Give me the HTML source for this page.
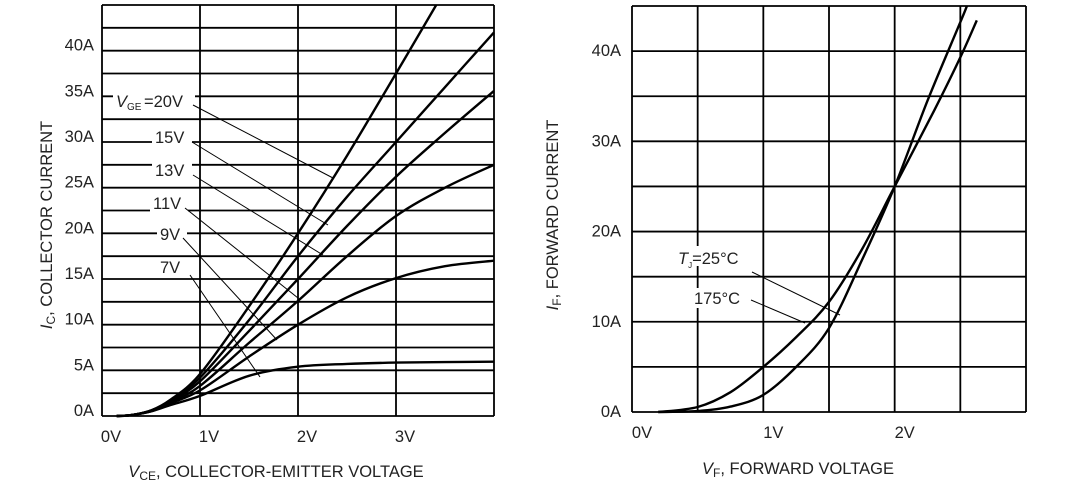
<!DOCTYPE html>
<html><head><meta charset="utf-8">
<style>
html,body{margin:0;padding:0;background:#fff;}
svg{display:block;font-family:"Liberation Sans",Arial,sans-serif;}
</style></head>
<body>
<svg id="chart" width="1092" height="483" viewBox="0 0 1092 483" xmlns="http://www.w3.org/2000/svg"></svg>
<script>
// ---------- Left chart data (Vce in V, Ic in A) ----------
const leftSeriesNames = ['20V','15V','13V','11V','9V','7V'];
const leftVce = [
  [0.15,0.3,0.5,0.7,1.0,1.5,2.0,2.5,3.0,3.41],
  [0.15,0.3,0.5,0.7,1.0,1.5,2.0,2.5,3.0,3.5,4.0],
  [0.15,0.3,0.5,0.7,1.0,1.5,2.0,2.5,3.0,3.5,4.0],
  [0.15,0.3,0.5,0.7,1.0,1.5,2.0,2.5,3.0,3.5,4.0],
  [0.15,0.3,0.5,0.7,1.0,1.5,2.0,2.5,3.0,3.5,4.0],
  [0.15,0.3,0.5,0.7,1.0,1.5,2.0,2.5,3.0,3.5,4.0]
];
const leftIc = [
  [0,0.1,0.6,1.8,4.6,12,20,28.5,37.5,45],
  [0,0.1,0.6,1.7,4.2,10.5,17.5,24,30,36,42],
  [0,0.1,0.6,1.6,3.8,9.3,15,20.8,26.2,31,35.6],
  [0,0.1,0.55,1.5,3.3,8,12.6,17.5,21.9,25,27.5],
  [0,0.1,0.5,1.4,2.8,6.5,10,13,15.1,16.4,17],
  [0,0.1,0.5,1.2,2.2,4.4,5.4,5.7,5.85,5.9,5.95]
];
const leftXTicks = ['0V','1V','2V','3V'];
const leftYTicks = ['0A','5A','10A','15A','20A','25A','30A','35A','40A'];

// ---------- Right chart data (Vf in V, If in A) ----------
const rightSeriesNames = ['25C','175C'];
const rightVf = [
  [0.2,0.5,0.75,1.0,1.25,1.5,1.75,2.0,2.25,2.5,2.55],
  [0.2,0.5,0.75,1.0,1.25,1.5,1.75,2.0,2.3,2.5,2.625]
];
const rightIf = [
  [0,0.1,0.6,1.9,5,9.3,16.8,25,34.5,43.2,45],
  [0,0.55,2.2,5,8.3,12.2,18,25,33.4,39.3,43.4]
];
const rightXTicks = ['0V','1V','2V'];
const rightYTicks = ['0A','10A','20A','30A','40A'];

const FS = 16.5;
const svg = document.getElementById('chart');
const NS = 'http://www.w3.org/2000/svg';
function mk(tag, attrs, parent){
  const e = document.createElementNS(NS, tag);
  for (const k in attrs) e.setAttribute(k, attrs[k]);
  (parent||svg).appendChild(e);
  return e;
}
function smooth(pts){
  let d = 'M' + pts[0][0].toFixed(1) + ',' + pts[0][1].toFixed(1);
  for (let i=0;i<pts.length-1;i++){
    const p0 = pts[i-1]||pts[i], p1=pts[i], p2=pts[i+1], p3=pts[i+2]||p2;
    const c1=[p1[0]+(p2[0]-p0[0])/6, p1[1]+(p2[1]-p0[1])/6];
    const c2=[p2[0]-(p3[0]-p1[0])/6, p2[1]-(p3[1]-p1[1])/6];
    d += 'C'+c1[0].toFixed(1)+','+c1[1].toFixed(1)+' '+c2[0].toFixed(1)+','+c2[1].toFixed(1)+' '+p2[0].toFixed(1)+','+p2[1].toFixed(1);
  }
  return d;
}

// ===== LEFT =====
const L = {x0:102, x1:494, y0:416, y1:5, vmax:4, imax:45};
const lx = v => L.x0 + v/L.vmax*(L.x1-L.x0);
const ly = a => L.y0 - a/L.imax*(L.y0-L.y1);
const lg = mk('g',{});


for (let a=0; a<=45; a+=2.5){
  const ln = mk('line',{x1:L.x0,x2:L.x1,y1:ly(a),y2:ly(a),stroke:'#000','stroke-width':1.8},lg);
  
  
}
for (let v=0; v<=4; v++){
  const ln = mk('line',{x1:lx(v),x2:lx(v),y1:L.y0,y2:L.y1,stroke:'#000','stroke-width':1.8},lg);
  
  
}
leftXTicks.forEach((t,i)=>{
  const e = mk('text',{x:lx(i)+9,y:442,'font-size':FS,'text-anchor':'middle',fill:'#222'},lg);
  e.textContent=t;
  
  
});
leftYTicks.forEach((t,i)=>{
  const e = mk('text',{x:94,y:ly(i*5),'font-size':FS,'text-anchor':'end',fill:'#222'},lg);
  e.textContent=t;
  
  
});
leftSeriesNames.forEach((n,s)=>{
  const pts = leftVce[s].map((v,i)=>[lx(v), ly(leftIc[s][i])]);
  const p = mk('path',{d:smooth(pts),fill:'none',stroke:'#000','stroke-width':2.4},lg);
  
  
});
const leftLabels = [
  {t:'=20V', x:144, y:107, lx1:193, ly1:105, lx2:333, ly2:178, bx:113, bw:82},
  {t:'15V', x:155, y:143, lx1:192, ly1:142, lx2:328, ly2:225, bx:152, bw:40},
  {t:'13V', x:155, y:176, lx1:193, ly1:175, lx2:323, ly2:255, bx:152, bw:40},
  {t:'11V', x:153, y:209, lx1:185, ly1:208, lx2:298, ly2:298, bx:150, bw:38},
  {t:'9V',  x:160, y:240, lx1:183, ly1:238, lx2:277, ly2:340, bx:157, bw:30},
  {t:'7V',  x:160, y:273, lx1:190, ly1:275, lx2:260, ly2:377, bx:157, bw:32}
];
leftLabels.forEach((o,i)=>{
  const r = mk('rect',{x:o.bx,y:o.y-15,width:o.bw,height:18,fill:'#fff'},lg);
  
  
  const l = mk('line',{x1:o.lx1,y1:o.ly1,x2:o.lx2,y2:o.ly2,stroke:'#000','stroke-width':1},lg);
  
  
  const e = mk('text',{x:o.x,y:o.y,'font-size':FS,fill:'#222'},lg);
  e.textContent=o.t;
  
  
});
const vge = mk('text',{x:116,y:107,'font-size':FS,fill:'#222'},lg);
vge.innerHTML='<tspan font-style="italic">V</tspan><tspan font-size="10" dy="3">GE</tspan>';


const lyt = mk('text',{x:0,y:0,'font-size':FS,'text-anchor':'middle',fill:'#222',transform:'translate(52,225) rotate(-90)'},lg);
lyt.innerHTML='<tspan font-style="italic">I</tspan><tspan font-size="12" dy="3">C</tspan><tspan dy="-3">, COLLECTOR CURRENT</tspan>';


const lxt = mk('text',{x:276,y:477,'font-size':FS,'text-anchor':'middle',fill:'#222'},lg);
lxt.innerHTML='<tspan font-style="italic">V</tspan><tspan font-size="12" dy="3">CE</tspan><tspan dy="-3">, COLLECTOR-EMITTER VOLTAGE</tspan>';



// ===== RIGHT =====
const R = {x0:632, x1:1026, y0:412, y1:6, vmax:3, imax:45};
const rx = v => R.x0 + v/R.vmax*(R.x1-R.x0);
const ry = a => R.y0 - a/R.imax*(R.y0-R.y1);
const rg = mk('g',{});


for (let a=0; a<=45; a+=5){
  const ln = mk('line',{x1:R.x0,x2:R.x1,y1:ry(a),y2:ry(a),stroke:'#000','stroke-width':1.8},rg);
  
  
}
for (let v=0; v<=3.001; v+=0.5){
  const ln = mk('line',{x1:rx(v),x2:rx(v),y1:R.y0,y2:R.y1,stroke:'#000','stroke-width':1.8},rg);
  
  
}
rightXTicks.forEach((t,i)=>{
  const e = mk('text',{x:rx(i)+10,y:438,'font-size':FS,'text-anchor':'middle',fill:'#222'},rg);
  e.textContent=t;
  
  
});
rightYTicks.forEach((t,i)=>{
  const e = mk('text',{x:621,y:ry(i*10)+5,'font-size':FS,'text-anchor':'end',fill:'#222'},rg);
  e.textContent=t;
  
  
});
[{x:676,y:246,w:72},{x:692,y:288,w:54}].forEach(b=>{
  const r = mk('rect',{x:b.x,y:b.y,width:b.w,height:20,fill:'#fff'},rg);
  
  
});
rightSeriesNames.forEach((n,s)=>{
  const pts = rightVf[s].map((v,i)=>[rx(v), ry(rightIf[s][i])]);
  const p = mk('path',{d:smooth(pts),fill:'none',stroke:'#000','stroke-width':2.4},rg);
  
  
});
const l1 = mk('line',{x1:752,y1:272,x2:840,y2:315,stroke:'#000','stroke-width':1},rg);


const l2 = mk('line',{x1:751,y1:300,x2:805,y2:323,stroke:'#000','stroke-width':1},rg);


const t1 = mk('text',{x:678,y:264,'font-size':FS,fill:'#222'},rg);
t1.innerHTML='<tspan font-style="italic">T</tspan><tspan font-size="8" dy="4">J</tspan><tspan dy="-4">=25°C</tspan>';


const t2 = mk('text',{x:694,y:304,'font-size':FS,fill:'#222'},rg);
t2.textContent='175°C';


const ryt = mk('text',{x:0,y:0,'font-size':FS,'text-anchor':'middle',fill:'#222',transform:'translate(558,215) rotate(-90)'},rg);
ryt.innerHTML='<tspan font-style="italic">I</tspan><tspan font-size="12" dy="3">F</tspan><tspan dy="-3">, FORWARD CURRENT</tspan>';


const rxt = mk('text',{x:798,y:474,'font-size':FS,'text-anchor':'middle',fill:'#222'},rg);
rxt.innerHTML='<tspan font-style="italic">V</tspan><tspan font-size="12" dy="3">F</tspan><tspan dy="-3">, FORWARD VOLTAGE</tspan>';


</script>
</body></html>
